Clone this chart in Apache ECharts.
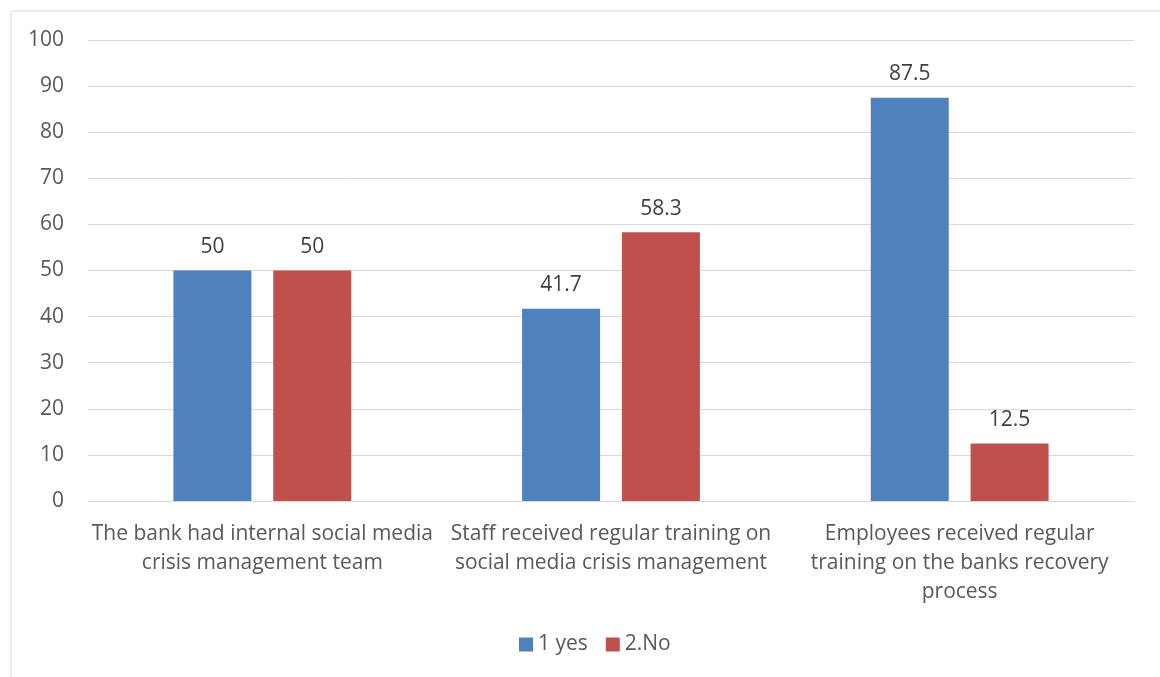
<!DOCTYPE html>
<html><head><meta charset="utf-8">
<script src="https://cdn.jsdelivr.net/npm/echarts@6/dist/echarts.min.js"></script>
<style>html,body{margin:0;padding:0;background:#fff}#c{width:1160px;height:677px}</style>
</head><body><div id="c"></div>
<script>
const categories = [
  "The bank had internal social media\ncrisis management team",
  "Staff received regular training on\nsocial media crisis management",
  "Employees received regular\ntraining on the banks recovery\nprocess"
];
const seriesNames = ["1 yes", "2.No"];
const yesValues = [50, 41.7, 87.5];
const noValues = [50, 58.3, 12.5];
const yTicks = [0, 10, 20, 30, 40, 50, 60, 70, 80, 90, 100];

const FONT = "'Open Sans', sans-serif";
const chart = echarts.init(document.getElementById('c'));
chart.setOption({
  animation: false,
  textStyle: { fontFamily: FONT },
  graphic: [{
    type: 'rect', shape: { x: 11, y: 11, width: 1200, height: 700 },
    style: { fill: 'none', stroke: '#D9D9D9', lineWidth: 1 }, silent: true
  }],
  grid: { left: 88, right: 26, top: 40, bottom: 176, containLabel: false },
  legend: {
    bottom: 17, left: 514, itemWidth: 14, itemHeight: 14, itemGap: 18,
    icon: 'rect',
    textStyle: { color: '#595959', fontSize: 21, fontFamily: FONT },
    data: seriesNames
  },
  xAxis: {
    type: 'category', data: categories,
    axisLine: { show: true, lineStyle: { color: '#D9D9D9', width: 1 } },
    axisTick: { show: false },
    axisLabel: { color: '#595959', fontSize: 21, lineHeight: 29, margin: 19, fontFamily: FONT, interval: 0 }
  },
  yAxis: {
    type: 'value', min: yTicks[0], max: yTicks[yTicks.length - 1], interval: 10,
    axisLine: { show: false }, axisTick: { show: false },
    splitLine: { lineStyle: { color: '#D9D9D9', width: 1 } },
    axisLabel: { color: '#595959', fontSize: 21, margin: 24, fontFamily: FONT }
  },
  series: [
    { name: seriesNames[0], type: 'bar', data: yesValues, barGap: '28%', barCategoryGap: '49%',
      itemStyle: { color: '#4F81BD' },
      label: { show: true, position: 'top', distance: 13, color: '#404040', fontSize: 21, fontFamily: FONT } },
    { name: seriesNames[1], type: 'bar', data: noValues,
      itemStyle: { color: '#C0504D' },
      label: { show: true, position: 'top', distance: 13, color: '#404040', fontSize: 21, fontFamily: FONT } }
  ]
});
</script></body></html>
